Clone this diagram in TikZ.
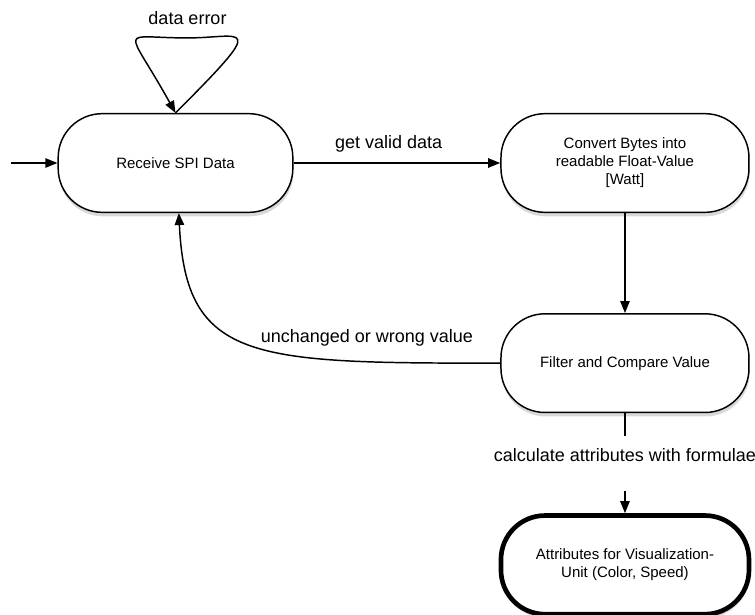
\documentclass[tikz,border=0pt]{standalone}
\usepackage{fontspec}
\setmainfont{Liberation Sans}
\usetikzlibrary{arrows.meta,positioning,shadows}
\tikzset{
  state/.style ={rectangle,rounded corners=33pt,draw=black,line width=1.1pt,fill=white,
                 minimum width=186pt,minimum height=74pt,align=center,
                 font=\fontsize{11.25}{13.5}\selectfont,
                 drop shadow={shadow xshift=0.5pt,shadow yshift=-3pt,opacity=0.3}},
  final/.style ={state,line width=3.5pt},
  flow/.style  ={-{Triangle[length=9pt,width=7pt]},line width=1.1pt,draw=black},
  lbl/.style   ={font=\fontsize{13.5}{16}\selectfont,inner sep=1pt}
}

\begin{document}
\begin{tikzpicture}[x=0.75pt,y=0.75pt,node distance=75pt]
  \useasboundingbox (0,0) rectangle (755,-614);
  \node[state,minimum width=176pt] (rcv) at (175.5,-163) {Receive SPI Data};
  \node[state,right=155pt of rcv] (conv) {Convert Bytes into\\readable Float-Value\\{}[Watt]};
  \node[state,below=of conv] (filt) {Filter and Compare Value};
  \node[final,below=of filt] (attr) {Attributes for Visualization-\\Unit (Color, Speed)};
  \coordinate[left=35pt of rcv] (entry);

  \draw[flow] (entry) -- (rcv);
  \draw[flow] (rcv.north) .. controls +(95,95) and +(55,0) .. ++(12,75)
        node[lbl,yshift=15pt] {data error}
        .. controls +(-70,0) and +(-50,90) .. (rcv.north);
  \draw[flow] (rcv) -- node[lbl,pos=.46,yshift=14pt] {get valid data} (conv);
  \draw[flow] (conv) -- (filt);
  \draw[flow] (filt.west) .. controls +(-248,0) and +(7,-149) .. ([xshift=2.5pt]rcv.south)
        node[lbl,pos=.21,yshift=18pt] {unchanged or wrong value};
  \draw[flow] (filt) -- node[lbl,fill=white,inner ysep=9.75pt,text depth=12pt]
        {calculate attributes with formulae} (attr);
\end{tikzpicture}
\end{document}
